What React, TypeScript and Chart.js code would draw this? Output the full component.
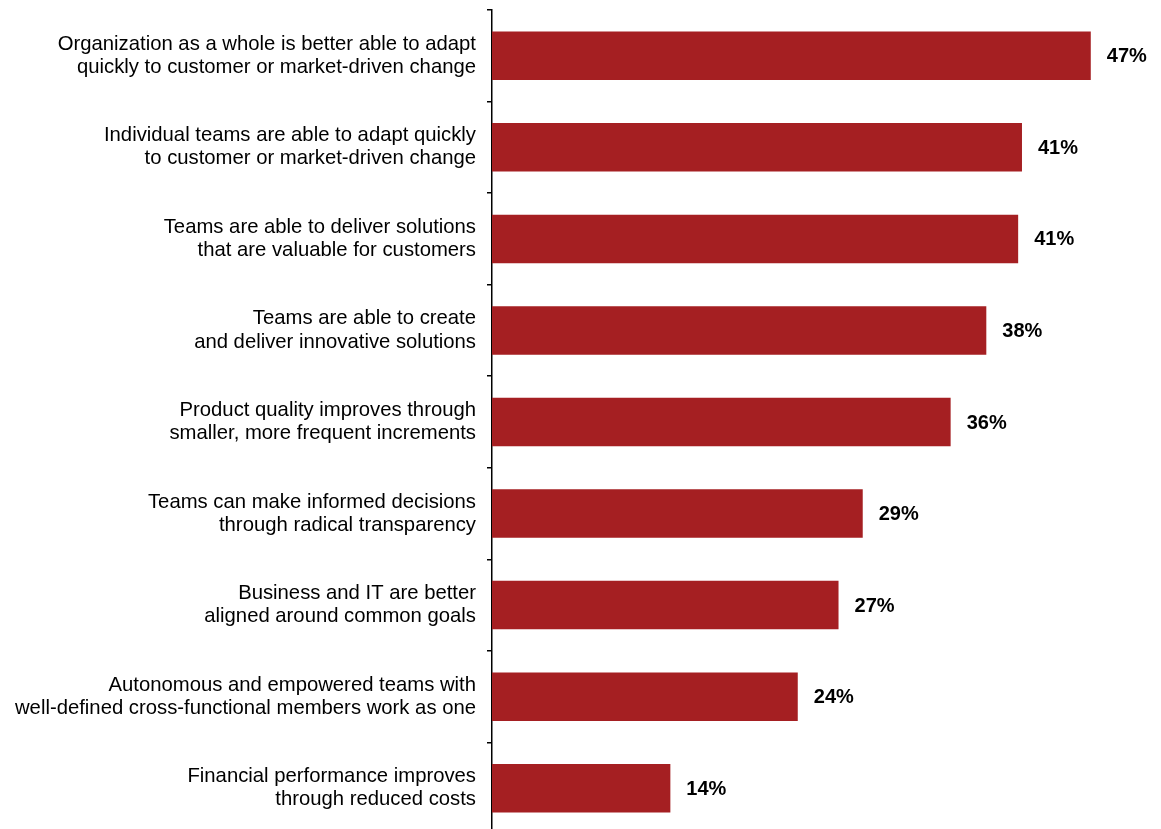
import React, { useEffect, useRef } from "react";
import { Chart, registerables } from "chart.js";

Chart.register(...registerables);

const categories: string[][] = [
  ["Organization as a whole is better able to adapt", "quickly to customer or market-driven change"],
  ["Individual teams are able to adapt quickly", "to customer or market-driven change"],
  ["Teams are able to deliver solutions", "that are valuable for customers"],
  ["Teams are able to create", "and deliver innovative solutions"],
  ["Product quality improves through", "smaller, more frequent increments"],
  ["Teams can make informed decisions", "through radical transparency"],
  ["Business and IT are better", "aligned around common goals"],
  ["Autonomous and empowered teams with", "well-defined cross-functional members work as one"],
  ["Financial performance improves", "through reduced costs"],
];

const values: number[] = [47, 41.6, 41.3, 38.8, 36, 29.1, 27.2, 24, 14];
const valueLabels: string[] = ["47%", "41%", "41%", "38%", "36%", "29%", "27%", "24%", "14%"];

const BAR_COLOR = "#A51F22";

const valueLabelPlugin = {
  id: "valueLabels",
  afterDatasetsDraw(chart: any) {
    const ctx = chart.ctx;
    const meta = chart.getDatasetMeta(0);
    ctx.save();
    ctx.font = "bold 20px 'Liberation Sans', Arial, sans-serif";
    ctx.fillStyle = "#000";
    ctx.textAlign = "left";
    ctx.textBaseline = "middle";
    meta.data.forEach((bar: any, i: number) => {
      ctx.fillText(valueLabels[i], bar.x + 16, bar.y + 1);
    });
    ctx.restore();
  },
};

export default function App() {
  const canvasRef = useRef<HTMLCanvasElement | null>(null);

  useEffect(() => {
    document.body.style.margin = "0";
    document.body.style.overflow = "hidden";
    const canvas = canvasRef.current;
    if (!canvas) return;
    const chart = new Chart(canvas, {
      type: "bar",
      data: {
        labels: categories,
        datasets: [
          {
            data: values,
            backgroundColor: BAR_COLOR,
            borderWidth: 0,
            barPercentage: 0.53,
            categoryPercentage: 1,
          },
        ],
      },
      options: {
        indexAxis: "y",
        responsive: false,
        animation: false,
        maintainAspectRatio: false,
        layout: { padding: { top: 10, right: 32, left: 0, bottom: 0 } },
        plugins: {
          legend: { display: false },
          tooltip: { enabled: false },
        },
        scales: {
          x: {
            display: false,
            min: 0,
            max: 50,
          },
          y: {
            offset: true,
            afterFit(scale: any) {
              scale.width = 492;
              scale.paddingTop = 0;
              scale.paddingBottom = 0;
            },
            border: { display: true, color: "#000", width: 1.5 },
            grid: {
              offset: true,
              drawOnChartArea: false,
              drawTicks: true,
              tickLength: 5,
              color: "#000",
              lineWidth: 1.5,
            },
            ticks: {
              color: "#000",
              padding: 11,
              font: { family: "'Liberation Sans', Arial, sans-serif", size: 20.3, lineHeight: 1.14 },
            },
          },
        },
      },
      plugins: [valueLabelPlugin],
    });
    return () => chart.destroy();
  }, []);

  return (
    <div style={{ position: "fixed", left: 0, top: 0, width: 1161, height: 829, overflow: "hidden", background: "#fff" }}>
      <canvas ref={canvasRef} width={1161} height={834} style={{ display: "block" }} />
    </div>
  );
}
